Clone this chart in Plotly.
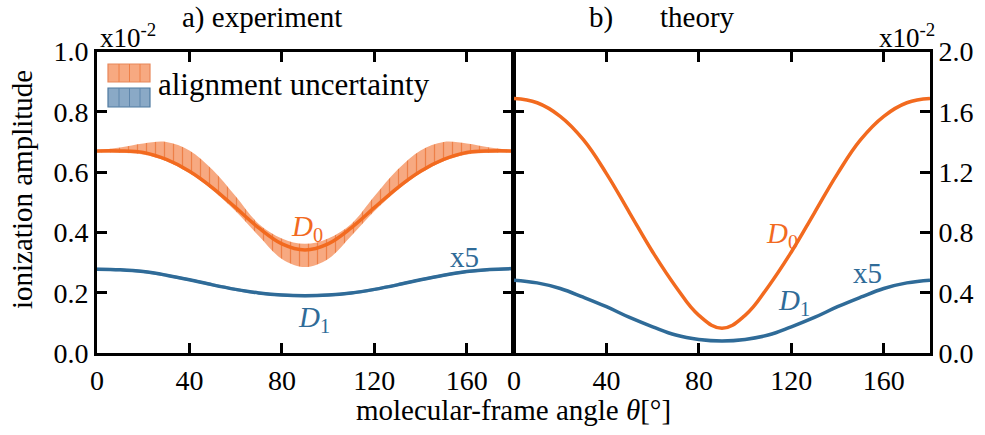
import plotly.graph_objects as go

# Angle grid (degrees)
theta = [0, 10, 20, 30, 40, 50, 60, 70, 80, 90,
         100, 110, 120, 130, 140, 150, 160, 170, 180]

# a) experiment, units of 1e-2
exp_d0 = [0.670, 0.670, 0.665, 0.642, 0.603, 0.548, 0.482, 0.415, 0.362, 0.342,
          0.362, 0.415, 0.482, 0.548, 0.603, 0.642, 0.665, 0.670, 0.670]
exp_d0_hi = [0.673, 0.682, 0.695, 0.700, 0.672, 0.608, 0.520, 0.428, 0.380, 0.362,
             0.380, 0.428, 0.520, 0.608, 0.672, 0.700, 0.695, 0.682, 0.673]
exp_d0_lo = [0.665, 0.664, 0.658, 0.636, 0.596, 0.540, 0.470, 0.388, 0.312, 0.285,
             0.312, 0.388, 0.470, 0.540, 0.596, 0.636, 0.658, 0.664, 0.665]
exp_d1 = [0.278, 0.276, 0.270, 0.258, 0.243, 0.226, 0.211, 0.199, 0.192, 0.190,
          0.192, 0.199, 0.211, 0.226, 0.243, 0.258, 0.270, 0.277, 0.280]
exp_d1_hi = [v + 0.005 for v in exp_d1]
exp_d1_lo = [v - 0.005 for v in exp_d1]

# b) theory, units of 1e-2
th_d0 = [1.688, 1.660, 1.570, 1.415, 1.190, 0.930, 0.670, 0.440, 0.250, 0.165,
         0.250, 0.440, 0.670, 0.930, 1.190, 1.415, 1.570, 1.660, 1.688]
th_d1 = [0.483, 0.465, 0.428, 0.370, 0.307, 0.236, 0.174, 0.119, 0.090, 0.080,
         0.090, 0.119, 0.174, 0.236, 0.307, 0.370, 0.428, 0.465, 0.483]

x_ticks = [0, 40, 80, 120, 160]
y_ticks_left = [0.0, 0.2, 0.4, 0.6, 0.8, 1.0]
y_ticks_right = [0.0, 0.4, 0.8, 1.2, 1.6, 2.0]

ORANGE = "#f26a1f"
BLUE = "#2f6b98"
ORANGE_FILL = "#f7a981"
BLUE_FILL = "#8aa9c6"
FONT = "Liberation Serif"
FS = 29      # text
FS_TICK = 28 # tick labels

W, H = 985, 435
px = lambda v: v / W
py = lambda v: (H - v) / H

fig = go.Figure()

# uncertainty bands (lower edge, then upper edge filled down to it)
fig.add_trace(go.Scatter(x=theta, y=exp_d0_lo, mode="lines", line=dict(width=0, shape="spline"),
                         showlegend=False, hoverinfo="skip", xaxis="x", yaxis="y"))
fig.add_trace(go.Scatter(x=theta, y=exp_d0_hi, mode="lines", line=dict(width=0, shape="spline"),
                         fill="tonexty", fillcolor=ORANGE_FILL,
                         fillpattern=dict(shape="|", fgcolor="#ee8048", bgcolor=ORANGE_FILL,
                                          size=9, solidity=0.14),
                         showlegend=False, hoverinfo="skip", xaxis="x", yaxis="y"))
fig.add_trace(go.Scatter(x=theta, y=exp_d1_lo, mode="lines", line=dict(width=0, shape="spline"),
                         showlegend=False, hoverinfo="skip", xaxis="x", yaxis="y"))
fig.add_trace(go.Scatter(x=theta, y=exp_d1_hi, mode="lines", line=dict(width=0, shape="spline"),
                         fill="tonexty", fillcolor=BLUE_FILL,
                         showlegend=False, hoverinfo="skip", xaxis="x", yaxis="y"))

# experiment curves
fig.add_trace(go.Scatter(x=theta, y=exp_d0, mode="lines", line=dict(color=ORANGE, width=3.5, shape="spline"),
                         showlegend=False, xaxis="x", yaxis="y"))
fig.add_trace(go.Scatter(x=theta, y=exp_d1, mode="lines", line=dict(color=BLUE, width=3.5, shape="spline"),
                         showlegend=False, xaxis="x", yaxis="y"))

# theory curves
fig.add_trace(go.Scatter(x=theta, y=th_d0, mode="lines",
                         line=dict(color=ORANGE, width=3.5, shape="spline", smoothing=1.2),
                         showlegend=False, xaxis="x2", yaxis="y2"))
fig.add_trace(go.Scatter(x=theta, y=th_d1, mode="lines",
                         line=dict(color=BLUE, width=3.5, shape="spline", smoothing=1.2),
                         showlegend=False, xaxis="x2", yaxis="y2"))

ydom = [py(353), py(51.5)]
axis_common = dict(showgrid=False, zeroline=False, showline=True, linecolor="black", linewidth=3,
                   ticks="inside", ticklen=10, tickwidth=3, tickcolor="black", mirror="ticks",
                   automargin=False,
                   tickfont=dict(family=FONT, size=FS_TICK, color="black"))

fig.update_layout(
    template="none",
    width=W, height=H, margin=dict(l=0, r=0, t=0, b=0, pad=0),
    paper_bgcolor="white", plot_bgcolor="white",
    font=dict(family=FONT, size=FS, color="black"),
    xaxis=dict(domain=[px(97), px(513)], range=[0, 180], tickvals=x_ticks, anchor="y", **axis_common),
    yaxis=dict(domain=ydom, range=[0, 1.0], tickvals=y_ticks_left,
               ticktext=[f"{v:.1f}" for v in y_ticks_left], anchor="x", **axis_common),
    xaxis2=dict(domain=[px(514), px(930)], range=[0, 180], tickvals=x_ticks, anchor="y2", **axis_common),
    yaxis2=dict(domain=ydom, range=[0, 2.0], tickvals=y_ticks_right, side="right",
                ticktext=[f"{v:.1f}" for v in y_ticks_right], anchor="x2", **axis_common),
)

def text(x, y, s, xref="paper", yref="paper", color="black", xanchor="center", yanchor="middle", size=FS, angle=0):
    fig.add_annotation(x=x, y=y, xref=xref, yref=yref, text=s, showarrow=False,
                       font=dict(family=FONT, size=size, color=color),
                       xanchor=xanchor, yanchor=yanchor, textangle=angle)

# titles and axis labels
text(px(262), py(17), "a) experiment")
text(px(601), py(17), "b)")
text(px(697), py(17), "theory")
text(px(98), py(36), "x10<sup>-2</sup>", xanchor="left", size=FS - 2)
text(px(937), py(36), "x10<sup>-2</sup>", xanchor="right", size=FS - 2)
text(px(22), py(190), "ionization amplitude", angle=-90)
text(px(513), py(410), "molecular-frame angle <i>θ</i>[°]")

# curve labels
text(91, 0.415, "<i>D</i><sub>0</sub>", xref="x", yref="y", color=ORANGE)
text(94, 0.112, "<i>D</i><sub>1</sub>", xref="x", yref="y", color=BLUE)
text(159, 0.32, "x5", xref="x", yref="y", color=BLUE)
text(116, 0.78, "<i>D</i><sub>0</sub>", xref="x2", yref="y2", color=ORANGE)
text(121, 0.34, "<i>D</i><sub>1</sub>", xref="x2", yref="y2", color=BLUE)
text(153, 0.53, "x5", xref="x2", yref="y2", color=BLUE)

# legend patches with vertical hatching
for (y0, y1, fill, edge, hatch) in [(64, 82, ORANGE_FILL, "#e8875a", "#ee8048"),
                                    (88, 107, BLUE_FILL, "#4f7aa0", "#5f86ab")]:
    fig.add_shape(type="rect", xref="paper", yref="paper",
                  x0=px(108), x1=px(150), y0=py(y1), y1=py(y0),
                  fillcolor=fill, line=dict(color=edge, width=1.2), layer="above")
    for xh in (119, 129.5, 140):
        fig.add_shape(type="line", xref="paper", yref="paper",
                      x0=px(xh), x1=px(xh), y0=py(y1), y1=py(y0),
                      line=dict(color=hatch, width=1), layer="above")
text(px(156), py(84), "alignment uncertainty", xanchor="left", size=31)

fig.write_html("out.html")
